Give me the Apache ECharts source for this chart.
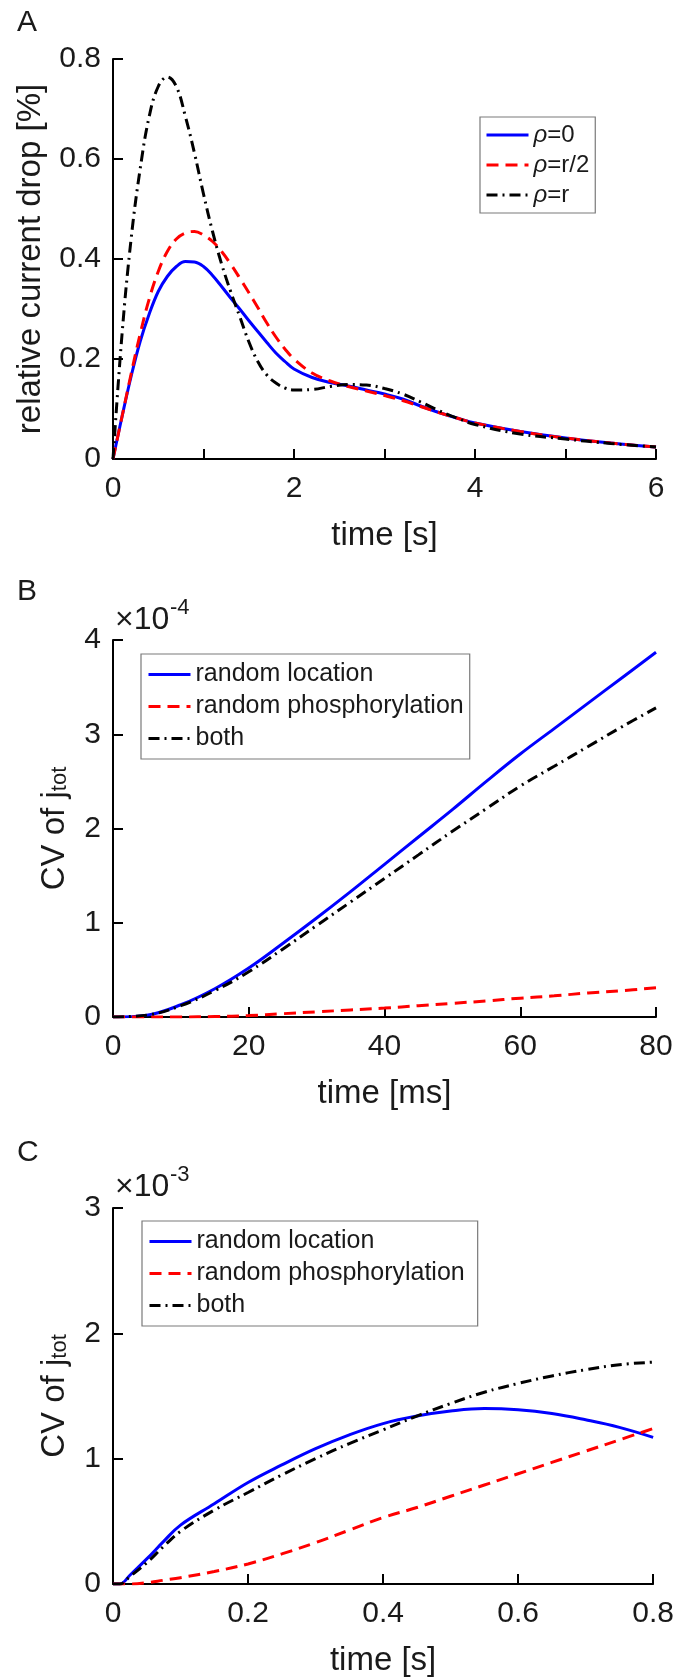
<!DOCTYPE html>
<html>
<head>
<meta charset="utf-8">
<script src="https://cdn.jsdelivr.net/npm/echarts@6/dist/echarts.min.js"></script>
<style>
  html, body { margin: 0; padding: 0; background: #fff; }
  #chart { width: 677px; height: 1678px; }
</style>
</head>
<body>
<div id="chart"></div>
<script>
// Panel A: relative current drop [%] vs time [s]
const timeA = [0, 0.1, 0.2, 0.3, 0.4, 0.5, 0.6, 0.7, 0.8, 0.9, 1.0, 1.1, 1.2, 1.3, 1.4, 1.5, 1.6, 1.7, 1.8, 1.9, 2.0, 2.2, 2.4, 2.6, 2.8, 3.0, 3.2, 3.4, 3.6, 3.8, 4.0, 4.5, 5.0, 5.5, 6.0];
const rho0 = [0, 0.085, 0.165, 0.235, 0.29, 0.335, 0.365, 0.385, 0.395, 0.394, 0.385, 0.367, 0.345, 0.322, 0.3, 0.277, 0.255, 0.233, 0.212, 0.195, 0.18, 0.163, 0.153, 0.146, 0.138, 0.13, 0.12, 0.106, 0.093, 0.082, 0.072, 0.055, 0.042, 0.032, 0.024];
const rhoHalf = [0, 0.085, 0.17, 0.25, 0.32, 0.375, 0.415, 0.44, 0.452, 0.455, 0.448, 0.435, 0.415, 0.39, 0.362, 0.333, 0.303, 0.272, 0.244, 0.22, 0.2, 0.172, 0.156, 0.145, 0.136, 0.127, 0.117, 0.105, 0.093, 0.082, 0.072, 0.055, 0.042, 0.032, 0.024];
const rhoR = [0, 0.25, 0.44, 0.58, 0.685, 0.745, 0.764, 0.745, 0.685, 0.612, 0.53, 0.455, 0.39, 0.335, 0.285, 0.235, 0.195, 0.168, 0.152, 0.142, 0.138, 0.139, 0.145, 0.149, 0.148, 0.141, 0.13, 0.114, 0.097, 0.082, 0.069, 0.05, 0.04, 0.031, 0.024];
const xTicksA = [0, 1, 2, 3, 4, 5, 6];
const xLabelsA = [0, 2, 4, 6];
const yTicksA = [0, 0.2, 0.4, 0.6, 0.8];

// Panel B: CV of j_tot (x 1e-4) vs time [ms]
const timeB = [0, 5, 10, 15, 20, 25, 30, 35, 40, 45, 50, 55, 60, 65, 70, 75, 80];
const locB = [0, 0.02, 0.13, 0.3, 0.52, 0.78, 1.05, 1.33, 1.62, 1.91, 2.2, 2.5, 2.79, 3.06, 3.33, 3.6, 3.87];
const phosB = [0, 0, 0, 0.005, 0.015, 0.035, 0.055, 0.075, 0.095, 0.12, 0.145, 0.17, 0.2, 0.225, 0.255, 0.28, 0.31];
const bothB = [0, 0.02, 0.12, 0.28, 0.48, 0.72, 0.97, 1.22, 1.47, 1.72, 1.97, 2.21, 2.45, 2.66, 2.87, 3.08, 3.28];
const xTicksB = [0, 20, 40, 60, 80];
const yTicksB = [0, 1, 2, 3, 4];

// Panel C: CV of j_tot (x 1e-3) vs time [s]
const timeC = [0, 0.01, 0.025, 0.05, 0.075, 0.1, 0.15, 0.2, 0.25, 0.3, 0.35, 0.4, 0.45, 0.5, 0.55, 0.6, 0.65, 0.7, 0.75, 0.8];
const locC = [0, 0, 0.07, 0.2, 0.34, 0.47, 0.64, 0.81, 0.95, 1.08, 1.19, 1.28, 1.34, 1.38, 1.4, 1.39, 1.36, 1.31, 1.25, 1.17];
const phosC = [0, 0, 0, 0.01, 0.03, 0.05, 0.1, 0.16, 0.24, 0.33, 0.43, 0.53, 0.61, 0.7, 0.79, 0.88, 0.97, 1.06, 1.15, 1.24];
const bothC = [0, 0, 0.06, 0.17, 0.3, 0.42, 0.59, 0.73, 0.87, 1.0, 1.12, 1.23, 1.34, 1.44, 1.53, 1.6, 1.66, 1.71, 1.75, 1.77];
const xTicksC = [0, 0.2, 0.4, 0.6, 0.8];
const yTicksC = [0, 1, 2, 3];

const FONT = "'Liberation Sans', Arial, sans-serif";
const INK = '#1a1a1a';
const DASH = [12, 7];
const DASHDOT = [11, 5, 2, 5];

const zip = (xs, ys) => xs.map((x, i) => [x, ys[i]]);

const makeX = (idx, max, ticks, labels, name) => ({
	type: 'value', gridIndex: idx, min: 0, max: max,
	name: name, nameLocation: 'middle', nameGap: 60,
	nameTextStyle: { fontFamily: FONT, fontSize: 33, color: INK },
	axisLine: { show: true, onZero: false, lineStyle: { color: '#000', width: 2 } },
	axisTick: { show: true, inside: true, length: 10, customValues: ticks, lineStyle: { color: '#000', width: 2 } },
	axisLabel: { customValues: labels, margin: 15, fontFamily: FONT, fontSize: 30, color: INK, showMinLabel: true, showMaxLabel: true, hideOverlap: false },
	splitLine: { show: false }
});

const makeY = (idx, max, ticks, name, gap) => ({
	type: 'value', gridIndex: idx, min: 0, max: max,
	name: name, nameLocation: 'middle', nameGap: gap,
	nameTextStyle: {
		fontFamily: FONT, fontSize: 33, color: INK,
		rich: {
			a: { fontFamily: FONT, fontSize: 33, lineHeight: 33, color: INK, verticalAlign: 'top' },
			b: { fontFamily: FONT, fontSize: 22, lineHeight: 22, color: INK, verticalAlign: 'bottom', padding: [16, 0, 0, 0] }
		}
	},
	axisLine: { show: true, onZero: false, lineStyle: { color: '#000', width: 2 } },
	axisTick: { show: true, inside: true, length: 10, customValues: ticks, lineStyle: { color: '#000', width: 2 } },
	axisLabel: { customValues: ticks, margin: 12, fontFamily: FONT, fontSize: 30, color: INK },
	splitLine: { show: false }
});

const line = (name, idx, data, color, type) => ({
	name: name, type: 'line', xAxisIndex: idx, yAxisIndex: idx,
	data: data, smooth: 0.4, symbol: 'none', showSymbol: false,
	lineStyle: { color: color, width: 3, type: type },
	itemStyle: { color: color },
	emphasis: { disabled: true },
	z: color === '#0000ff' ? 3 : 4
});

const legendBase = {
	orient: 'vertical',
	backgroundColor: '#fff',
	borderColor: '#7a7a7a',
	borderWidth: 1.2,
	borderRadius: 0,
	itemWidth: 42,
	itemHeight: 14,
	selectedMode: false,
	itemStyle: { opacity: 0 },
	lineStyle: { width: 3 },
	textStyle: { fontFamily: FONT, fontSize: 25, color: INK }
};

const chart = echarts.init(document.getElementById('chart'), null, { renderer: 'canvas' });

chart.setOption({
	backgroundColor: '#fff',
	animation: false,
	grid: [
		{ left: 113, width: 543, top: 59, height: 400 },
		{ left: 113, width: 543, top: 640, height: 377 },
		{ left: 113, width: 543, top: 1208, height: 377 }
	],
	xAxis: [
		makeX(0, 6, xTicksA, xLabelsA, 'time [s]'),
		makeX(1, 80, xTicksB, xTicksB, 'time [ms]'),
		makeX(2, 0.8, xTicksC, xTicksC, 'time [s]')
	],
	yAxis: [
		makeY(0, 0.8, yTicksA, 'relative current drop [%]', 66),
		makeY(1, 4, yTicksB, '{a|CV of j}{b|tot}', 42),
		makeY(2, 3, yTicksC, '{a|CV of j}{b|tot}', 42)
	],
	legend: [
		Object.assign({}, legendBase, {
			left: 480, top: 117, padding: [6, 6, 6, 5], itemGap: 6,
			data: ['ρ=0', 'ρ=r/2', 'ρ=r'],
			formatter: name => name.replace('ρ', '{i|ρ}'),
			textStyle: {
				fontFamily: FONT, fontSize: 24, color: INK,
				rich: { i: { fontFamily: FONT, fontSize: 24, fontStyle: 'italic', color: INK } }
			}
		}),
		Object.assign({}, legendBase, {
			left: 141, top: 654, padding: [8, 6, 8, 6], itemGap: 7,
			data: ['random location', 'random phosphorylation', 'both']
		}),
		Object.assign({}, legendBase, {
			left: 142, top: 1221, padding: [8, 6, 8, 6], itemGap: 7,
			data: ['random location ', 'random phosphorylation ', 'both ']
		})
	],
	graphic: [
		{ type: 'text', left: 17, top: 8, style: { text: 'A', font: '30px ' + FONT, fill: INK } },
		{ type: 'text', left: 17, top: 577, style: { text: 'B', font: '30px ' + FONT, fill: INK } },
		{ type: 'text', left: 17, top: 1138, style: { text: 'C', font: '30px ' + FONT, fill: INK } },
		{ type: 'text', left: 115, top: 604, style: { text: '×10', font: '32px ' + FONT, fill: INK } },
		{ type: 'text', left: 170, top: 597, style: { text: '-4', font: '22px ' + FONT, fill: INK } },
		{ type: 'text', left: 115, top: 1171, style: { text: '×10', font: '32px ' + FONT, fill: INK } },
		{ type: 'text', left: 170, top: 1164, style: { text: '-3', font: '22px ' + FONT, fill: INK } }
	],
	series: [
		line('ρ=0', 0, zip(timeA, rho0), '#0000ff', 'solid'),
		line('ρ=r/2', 0, zip(timeA, rhoHalf), '#ff0000', DASH),
		line('ρ=r', 0, zip(timeA, rhoR), '#000000', DASHDOT),
		line('random location', 1, zip(timeB, locB), '#0000ff', 'solid'),
		line('random phosphorylation', 1, zip(timeB, phosB), '#ff0000', DASH),
		line('both', 1, zip(timeB, bothB), '#000000', DASHDOT),
		line('random location ', 2, zip(timeC, locC), '#0000ff', 'solid'),
		line('random phosphorylation ', 2, zip(timeC, phosC), '#ff0000', DASH),
		line('both ', 2, zip(timeC, bothC), '#000000', DASHDOT)
	]
});

window.addEventListener('resize', () => chart.resize());
</script>
</body>
</html>
